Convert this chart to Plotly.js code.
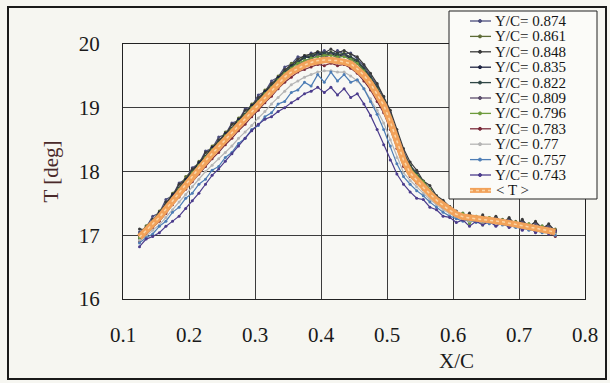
<!DOCTYPE html>
<html><head><meta charset="utf-8">
<script src="https://cdn.plot.ly/plotly-3.0.1.min.js"></script>
<style>html,body{margin:0;padding:0;background:#f6f6f1;}#chart{width:610px;height:383px;}</style>
</head><body><div id="chart"></div>
<script>
const xStart = 0.125, xStep = 0.01;
const seriesNames = ["Y/C= 0.874","Y/C= 0.861","Y/C= 0.848","Y/C= 0.835","Y/C= 0.822","Y/C= 0.809","Y/C= 0.796","Y/C= 0.783","Y/C= 0.77","Y/C= 0.757","Y/C= 0.743"];
const meanName = "< T >";
const xTicks = [0.1,0.2,0.3,0.4,0.5,0.6,0.7,0.8];
const yTicks = [16,17,18,19,20];

const s874 = [17.05,17.12,17.30,17.35,17.56,17.62,17.82,17.88,18.06,18.12,18.32,18.36,18.54,18.58,18.76,18.80,18.98,19.02,19.20,19.25,19.42,19.48,19.64,19.68,19.80,19.78,19.86,19.82,19.90,19.84,19.90,19.84,19.86,19.76,19.66,19.50,19.36,19.16,18.92,18.62,18.32,18.10,17.98,17.82,17.72,17.60,17.50,17.42,17.35,17.30,17.32,17.25,17.30,17.22,17.28,17.20,17.25,17.18,17.22,17.15,17.20,17.12,17.15,17.08];
const s861 = [17.00,17.15,17.22,17.38,17.48,17.66,17.74,17.92,18.00,18.16,18.24,18.40,18.46,18.62,18.68,18.84,18.90,19.06,19.12,19.28,19.34,19.50,19.56,19.70,19.72,19.82,19.80,19.88,19.82,19.88,19.82,19.86,19.78,19.74,19.60,19.48,19.30,19.12,18.88,18.58,18.28,18.10,17.95,17.85,17.70,17.62,17.48,17.45,17.32,17.35,17.22,17.30,17.20,17.28,17.18,17.25,17.15,17.22,17.12,17.18,17.08,17.15,17.05,17.10];
const s848 = [17.10,17.08,17.25,17.32,17.52,17.60,17.80,17.86,18.04,18.10,18.30,18.34,18.50,18.56,18.74,18.78,18.96,19.00,19.16,19.24,19.38,19.46,19.60,19.66,19.76,19.82,19.84,19.88,19.86,19.92,19.86,19.90,19.84,19.80,19.68,19.54,19.38,19.18,18.96,18.66,18.36,18.15,18.02,17.85,17.78,17.62,17.55,17.45,17.38,17.28,17.35,17.22,17.32,17.20,17.30,17.18,17.28,17.15,17.25,17.12,17.22,17.10,17.18,17.06];
const s835 = [16.95,17.12,17.20,17.36,17.46,17.64,17.72,17.88,17.98,18.14,18.22,18.38,18.44,18.60,18.66,18.82,18.88,19.04,19.10,19.26,19.32,19.48,19.52,19.66,19.70,19.80,19.78,19.86,19.80,19.86,19.80,19.84,19.76,19.72,19.58,19.46,19.26,19.08,18.84,18.56,18.26,18.08,17.92,17.82,17.68,17.60,17.46,17.42,17.30,17.32,17.20,17.28,17.22,17.26,17.16,17.24,17.14,17.20,17.10,17.16,17.06,17.12,17.04,17.08];
const s822 = [17.02,17.10,17.24,17.30,17.48,17.58,17.74,17.84,17.98,18.08,18.24,18.32,18.46,18.56,18.68,18.78,18.90,19.00,19.12,19.22,19.34,19.44,19.56,19.64,19.72,19.78,19.82,19.84,19.86,19.86,19.84,19.84,19.80,19.74,19.62,19.48,19.32,19.12,18.88,18.58,18.28,18.08,17.96,17.84,17.72,17.60,17.52,17.42,17.36,17.30,17.28,17.26,17.25,17.24,17.22,17.20,17.20,17.16,17.16,17.12,17.12,17.08,17.08,17.04];
const s809 = [16.98,17.06,17.20,17.26,17.44,17.54,17.70,17.80,17.94,18.04,18.20,18.28,18.42,18.52,18.64,18.74,18.86,18.96,19.08,19.18,19.30,19.40,19.50,19.60,19.66,19.74,19.76,19.82,19.78,19.84,19.78,19.82,19.74,19.70,19.56,19.42,19.24,19.06,18.82,18.52,18.22,18.04,17.90,17.80,17.68,17.56,17.48,17.40,17.34,17.28,17.30,17.24,17.28,17.22,17.26,17.20,17.22,17.16,17.20,17.12,17.16,17.10,17.12,17.06];
const s796 = [16.96,17.08,17.18,17.30,17.44,17.58,17.72,17.84,17.98,18.10,18.22,18.34,18.44,18.56,18.66,18.78,18.88,19.00,19.10,19.22,19.32,19.44,19.54,19.62,19.70,19.74,19.78,19.80,19.82,19.82,19.80,19.80,19.76,19.70,19.58,19.44,19.28,19.10,18.86,18.56,18.24,18.06,17.94,17.84,17.72,17.58,17.50,17.38,17.30,17.34,17.18,17.30,17.16,17.28,17.20,17.24,17.14,17.20,17.10,17.18,17.08,17.14,17.06,17.04];
const s783 = [16.90,17.02,17.12,17.22,17.34,17.48,17.60,17.72,17.84,17.96,18.08,18.20,18.30,18.42,18.52,18.64,18.74,18.86,18.96,19.08,19.18,19.30,19.40,19.48,19.56,19.60,19.64,19.68,19.66,19.70,19.66,19.68,19.62,19.54,19.42,19.28,19.10,18.92,18.66,18.36,18.08,17.92,17.82,17.72,17.62,17.52,17.44,17.36,17.30,17.26,17.24,17.22,17.24,17.20,17.22,17.18,17.18,17.14,17.14,17.10,17.10,17.06,17.04,16.98];
const s770 = [16.92,16.98,17.08,17.16,17.28,17.40,17.52,17.64,17.76,17.88,18.00,18.10,18.20,18.30,18.40,18.52,18.62,18.72,18.84,18.94,19.06,19.16,19.26,19.36,19.42,19.48,19.52,19.56,19.58,19.58,19.56,19.56,19.50,19.42,19.30,19.14,18.96,18.76,18.50,18.22,17.98,17.86,17.76,17.66,17.56,17.48,17.40,17.34,17.28,17.24,17.22,17.22,17.20,17.20,17.18,17.18,17.16,17.14,17.12,17.10,17.08,17.06,17.04,17.02];
const s757 = [16.88,16.96,17.02,17.14,17.22,17.36,17.44,17.58,17.66,17.80,17.88,18.02,18.08,18.22,18.30,18.44,18.52,18.66,18.72,18.86,18.92,19.06,19.10,19.24,19.28,19.40,19.34,19.52,19.40,19.56,19.42,19.52,19.40,19.44,19.30,19.10,18.90,18.66,18.40,18.12,17.92,17.80,17.70,17.62,17.52,17.44,17.36,17.30,17.26,17.22,17.24,17.20,17.22,17.18,17.20,17.16,17.16,17.12,17.12,17.08,17.08,17.04,17.04,17.00];
const s743 = [16.82,16.94,16.98,17.04,17.14,17.22,17.30,17.42,17.54,17.66,17.80,17.94,18.04,18.16,18.28,18.40,18.52,18.64,18.74,18.82,18.86,18.94,19.00,19.08,19.14,19.22,19.26,19.32,19.24,19.32,19.20,19.30,19.16,19.22,19.06,18.88,18.66,18.42,18.18,17.96,17.80,17.68,17.58,17.56,17.44,17.40,17.30,17.28,17.20,17.24,17.14,17.22,17.16,17.22,17.14,17.20,17.12,17.16,17.08,17.14,17.04,17.10,17.02,17.06];
const meanT = [16.97,17.07,17.17,17.28,17.41,17.54,17.67,17.80,17.93,18.05,18.17,18.28,18.39,18.50,18.61,18.72,18.83,18.94,19.05,19.16,19.27,19.38,19.48,19.56,19.62,19.67,19.71,19.74,19.75,19.75,19.74,19.72,19.69,19.61,19.51,19.38,19.22,19.04,18.78,18.48,18.18,17.98,17.86,17.75,17.65,17.55,17.47,17.39,17.33,17.29,17.27,17.26,17.25,17.24,17.23,17.21,17.19,17.17,17.15,17.13,17.11,17.09,17.07,17.05];

const seriesData = [s874,s861,s848,s835,s822,s809,s796,s783,s770,s757,s743];
const seriesColors = ["#4b4d7c","#5d6b35","#3a3a3a","#1f2442","#2f4646","#5b4d6b","#6c9b3c","#7a2a3a","#b5b5b5","#4d7db5","#4b3c8c"];
const xs = s874.map((_, i) => +(xStart + i * xStep).toFixed(3));

const FONT = '"Liberation Serif", serif';

const traces = seriesData.map((d, k) => ({
  x: xs, y: d, type: 'scatter', mode: 'lines+markers', name: seriesNames[k],
  line: {color: seriesColors[k], width: 1.2},
  marker: {color: seriesColors[k], size: 3},
  showlegend: false
}));
traces.push({x: xs, y: meanT, type: 'scatter', mode: 'lines', name: meanName,
  line: {color: '#f2a25a', width: 6.5}, showlegend: false});
traces.push({x: xs, y: meanT, type: 'scatter', mode: 'lines', name: meanName,
  line: {color: '#fbd6a8', width: 1.5, dash: 'dot'}, showlegend: false, hoverinfo: 'skip'});

// pixel helpers for decorations
const L = 123, R = 585, T = 44, B = 299;
const px = v => (v - L) / (R - L);
const py = v => (B - v) / (B - T);

const shapes = [
  {type: 'rect', xref: 'paper', yref: 'paper', x0: px(8), x1: px(606), y0: py(379), y1: py(7), line: {color: '#1a1a1a', width: 2}, layer: 'below'},
  {type: 'rect', xref: 'paper', yref: 'paper', x0: px(449), x1: px(597), y0: py(199), y1: py(11), line: {color: '#222', width: 1}, fillcolor: '#fbfbf8', layer: 'above'}
];
const annotations = [];
const allNames = seriesNames.concat([meanName]);
const allColors = seriesColors.concat(['#f2a25a']);
allNames.forEach((nm, k) => {
  const yc = 21 + k * 15.4;
  const isMean = k === allNames.length - 1;
  shapes.push({type: 'line', xref: 'paper', yref: 'paper', x0: px(470), x1: px(491), y0: py(yc), y1: py(yc),
    line: {color: allColors[k], width: isMean ? 5 : 1.3}, layer: 'above'});
  if (!isMean) {
    shapes.push({type: 'circle', xref: 'paper', yref: 'paper', x0: px(478.5), x1: px(481.5), y0: py(yc + 1.5), y1: py(yc - 1.5),
      line: {color: allColors[k], width: 1}, fillcolor: allColors[k], layer: 'above'});
  } else {
    shapes.push({type: 'line', xref: 'paper', yref: 'paper', x0: px(470), x1: px(491), y0: py(yc), y1: py(yc),
      line: {color: '#fbd6a8', width: 1.5, dash: 'dot'}, layer: 'above'});
  }
  annotations.push({xref: 'paper', yref: 'paper', x: px(isMean ? 494 : 493), y: py(yc), xanchor: 'left', yanchor: 'middle',
    text: nm, showarrow: false, font: {family: FONT, size: 15, color: '#151515'}});
});
annotations.push({xref: 'paper', yref: 'paper', x: px(456), y: py(361), xanchor: 'center', yanchor: 'middle',
  text: 'X/C', showarrow: false, font: {family: FONT, size: 21, color: '#1a1a1a'}});

const layout = {
  width: 610, height: 383,
  margin: {l: L, r: 610 - R, t: T, b: 383 - B},
  paper_bgcolor: '#f6f6f1', plot_bgcolor: '#f8f8f4',
  font: {family: FONT, color: '#1a1a1a'},
  showlegend: false,
  xaxis: {range: [0.1, 0.8], tickvals: xTicks, ticktext: xTicks.map(v => v.toFixed(1)),
    showgrid: true, gridcolor: '#3c3c3c', gridwidth: 1, zeroline: false,
    showline: true, linecolor: '#222', linewidth: 1, mirror: true, ticks: '',
    tickfont: {family: FONT, size: 21, color: '#1a1a1a'}, ticklabelstandoff: 17},
  yaxis: {range: [16, 20], tickvals: yTicks, showgrid: true, gridcolor: '#3c3c3c', gridwidth: 1, zeroline: false,
    showline: true, linecolor: '#222', linewidth: 1, mirror: true, ticks: '',
    tickfont: {family: FONT, size: 21, color: '#1a1a1a'}, ticklabelstandoff: 18,
    title: {text: 'T [deg]', font: {family: FONT, size: 21, color: '#4a2a2a'}, standoff: 14}},
  shapes: shapes, annotations: annotations
};
Plotly.newPlot('chart', traces, layout, {staticPlot: true, displayModeBar: false});
</script></body></html>
